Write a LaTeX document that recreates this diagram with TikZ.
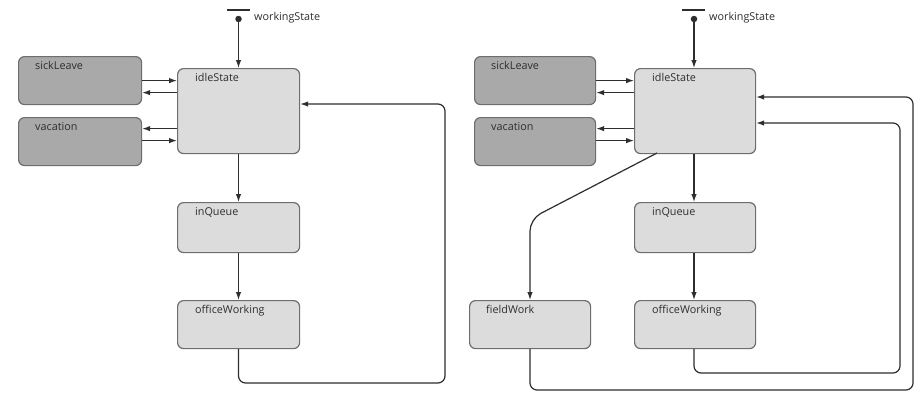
\documentclass[tikz,border=0pt]{standalone}
\usepackage{fontspec}
\setmainfont{Open Sans}
\usetikzlibrary{arrows.meta,calc}
\definecolor{txt}{HTML}{2E2E2E}
\definecolor{lnc}{HTML}{2E2E2E}
\definecolor{darkfill}{HTML}{A9A9A9}
\definecolor{lightfill}{HTML}{DCDCDC}
\definecolor{bord}{HTML}{6E6E6E}
\tikzset{
  x=1pt, y=-1pt,
  stbox/.style={draw=bord, line width=1.2pt, rounded corners=6pt, fill=lightfill,
    minimum width=122pt, inner sep=0pt, anchor=north west},
  darkbox/.style={stbox, fill=darkfill},
  stlbl/.style={anchor=north west, inner sep=0pt, text=txt, font=\fontsize{10.8}{13}\selectfont},
  conn/.style={draw=lnc, line width=1.2pt, -{Latex[length=8pt,width=5.5pt]}},
  loopc/.style={conn, rounded corners=7pt},
  bar/.style={draw=lnc, line width=2pt},
}
\begin{document}
\begin{tikzpicture}
\useasboundingbox[fill=white] (0,0) rectangle (917,392);
% ---------------- left diagram ----------------
\node[stbox, minimum height=85pt] (idleA) at (177,68) {};
\node[stlbl] (idleAt) at ($(idleA.north west)+(18,5)$) {idleState};
\node[darkbox, minimum height=48pt, minimum width=123pt] (sickA) at (18,56) {};
\node[stlbl] (sickAt) at ($(sickA.north west)+(17,5)$) {sickLeave};
\node[darkbox, minimum height=48pt, minimum width=123pt] (vacA) at (18,117) {};
\node[stlbl] (vacAt) at ($(vacA.north west)+(17,5)$) {vacation};
\node[stbox, minimum height=50pt] (inqA) at (177,202) {};
\node[stlbl] (inqAt) at ($(inqA.north west)+(18,5)$) {inQueue};
\node[stbox, minimum height=48pt] (offA) at (177,300) {};
\node[stlbl] (offAt) at ($(offA.north west)+(18,5)$) {officeWorking};
% initial
\coordinate (barAl) at (227,9.5);
\coordinate (barAr) at (250,9.5);
\draw[bar] (barAl) -- (barAr);
\node[circle, fill=lnc, inner sep=0pt, minimum size=6.5pt] (initA) at (238.5,19) {};
\node[anchor=west, inner sep=0pt, text=txt, font=\fontsize{10.8}{13}\selectfont] (wsA) at (254,18) {workingState};
\draw[conn] (initA) -- (initA |- idleA.north);
\draw[conn] (sickA.east) -- (sickA.east -| idleA.west);
\draw[conn] ($(idleA.west |- sickA.east)+(0,12)$) -- ($(sickA.east)+(0,12)$);
\draw[conn] ($(idleA.west |- vacA.east)+(0,-13)$) -- ($(vacA.east)+(0,-13)$);
\draw[conn] ($(vacA.east)+(0,-1)$) -- ($(idleA.west |- vacA.east)+(0,-1)$);
\draw[conn] (idleA.south -| initA) -- (inqA.north -| initA);
\draw[conn] (inqA.south -| initA) -- (offA.north -| initA);
\coordinate (cA1) at (238.5,383);
\coordinate (cA2) at (445,383);
\coordinate (cA3) at (445,104);
\draw[loopc] (offA.south -| initA) -- (cA1) -- (cA2) -- (cA3) -- (cA3 -| idleA.east);
% ---------------- right diagram ----------------
\node[stbox, minimum height=85pt, minimum width=121pt] (idleB) at (634,68) {};
\node[stlbl] (idleBt) at ($(idleB.north west)+(18,5)$) {idleState};
\node[darkbox, minimum height=48pt, minimum width=121pt] (sickB) at (474,56) {};
\node[stlbl] (sickBt) at ($(sickB.north west)+(17,5)$) {sickLeave};
\node[darkbox, minimum height=48pt, minimum width=121pt] (vacB) at (474,117) {};
\node[stlbl] (vacBt) at ($(vacB.north west)+(17,5)$) {vacation};
\node[stbox, minimum height=50pt, minimum width=121pt] (inqB) at (634,202) {};
\node[stlbl] (inqBt) at ($(inqB.north west)+(18,5)$) {inQueue};
\node[stbox, minimum height=48pt, minimum width=121pt] (offB) at (634,300) {};
\node[stlbl] (offBt) at ($(offB.north west)+(18,5)$) {officeWorking};
\node[stbox, minimum height=48pt, minimum width=121pt] (fieldB) at (469,300) {};
\node[stlbl] (fieldBt) at ($(fieldB.north west)+(17,5)$) {fieldWork};
% initial
\coordinate (barBl) at (682,9.5);
\coordinate (barBr) at (705,9.5);
\draw[bar] (barBl) -- (barBr);
\node[circle, fill=lnc, inner sep=0pt, minimum size=6.5pt] (initB) at (694,19) {};
\node[anchor=west, inner sep=0pt, text=txt, font=\fontsize{10.8}{13}\selectfont] (wsB) at (709,18) {workingState};
\draw[conn] (initB) -- (initB |- idleB.north);
\draw[conn] (sickB.east) -- (sickB.east -| idleB.west);
\draw[conn] ($(idleB.west |- sickB.east)+(0,12)$) -- ($(sickB.east)+(0,12)$);
\draw[conn] ($(idleB.west |- vacB.east)+(0,-13)$) -- ($(vacB.east)+(0,-13)$);
\draw[conn] ($(vacB.east)+(0,-1)$) -- ($(idleB.west |- vacB.east)+(0,-1)$);
\draw[conn] (idleB.south -| initB) -- (inqB.north -| initB);
\draw[conn] (inqB.south -| initB) -- (offB.north -| initB);
% idle -> fieldWork
\coordinate (fStart) at (657,153);
\coordinate (fBend) at (530,219);
\draw[conn, rounded corners=12pt] (fStart) -- (fBend) -- (fBend |- fieldB.north);
% fieldWork -> idle
\coordinate (cB1) at (530,390);
\coordinate (cB2) at (913,390);
\coordinate (cB3) at (913,97);
\draw[loopc] (fieldB.south -| cB1) -- (cB1) -- (cB2) -- (cB3) -- (cB3 -| idleB.east);
% officeWorking -> idle
\coordinate (cC1) at (694,373);
\coordinate (cC2) at (900,373);
\coordinate (cC3) at (900,123);
\draw[loopc] (offB.south -| initB) -- (cC1) -- (cC2) -- (cC3) -- (cC3 -| idleB.east);
\end{tikzpicture}
\end{document}
